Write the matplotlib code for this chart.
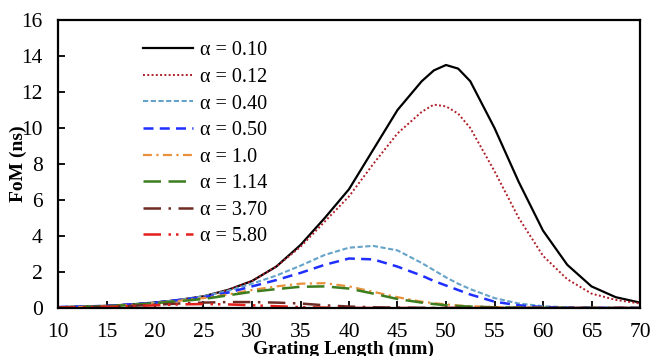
import matplotlib
matplotlib.use("Agg")
import matplotlib.pyplot as plt

plt.rcParams['font.family'] = ['Liberation Serif', 'DejaVu Serif']

# ---- data ----
x = [10, 12.5, 15, 17.5, 20, 22.5, 25, 27.5, 30, 32.5, 35, 37.5, 40,
     42.5, 45, 47.5, 48.75, 50, 51.25, 52.5, 55, 57.5, 60, 62.5, 65, 67.5, 70]

a010 = [0.05, 0.08, 0.12, 0.2, 0.3, 0.45, 0.65, 1.0, 1.5, 2.3, 3.5, 5.0, 6.6,
        8.8, 11.0, 12.6, 13.2, 13.5, 13.3, 12.6, 10.0, 7.0, 4.3, 2.4, 1.2, 0.6, 0.3]
a012 = [0.05, 0.08, 0.12, 0.2, 0.3, 0.45, 0.65, 1.0, 1.5, 2.3, 3.4, 4.8, 6.2,
        8.0, 9.7, 10.9, 11.3, 11.2, 10.8, 10.0, 7.6, 5.0, 2.9, 1.6, 0.8, 0.45, 0.25]
a040 = [0.05, 0.08, 0.12, 0.2, 0.3, 0.45, 0.65, 0.95, 1.35, 1.8, 2.35, 2.95, 3.35,
        3.45, 3.2, 2.5, 2.1, 1.7, 1.35, 1.05, 0.55, 0.25, 0.1, 0.04, 0.02, 0.01, 0.01]
a050 = [0.05, 0.08, 0.12, 0.2, 0.3, 0.45, 0.6, 0.85, 1.2, 1.55, 1.95, 2.4, 2.75,
        2.7, 2.3, 1.8, 1.5, 1.25, 1.0, 0.75, 0.35, 0.15, 0.05, 0.02, 0.01, 0.01, 0.01]
a100 = [0.03, 0.06, 0.1, 0.17, 0.27, 0.4, 0.55, 0.75, 1.0, 1.2, 1.35, 1.38, 1.2,
        0.9, 0.6, 0.35, 0.27, 0.2, 0.14, 0.1, 0.05, 0.02, 0.01, 0, 0, 0, 0]
a114 = [0.03, 0.06, 0.1, 0.17, 0.27, 0.38, 0.5, 0.7, 0.9, 1.05, 1.18, 1.2, 1.08,
        0.8, 0.5, 0.3, 0.22, 0.15, 0.11, 0.08, 0.04, 0.02, 0.01, 0, 0, 0, 0]
a370 = [0.02, 0.04, 0.07, 0.12, 0.18, 0.25, 0.3, 0.33, 0.33, 0.3, 0.25, 0.15, 0.08,
        0.04, 0.02, 0.01, 0, 0, 0, 0, 0, 0, 0, 0, 0, 0, 0]
a580 = [0.02, 0.04, 0.06, 0.1, 0.15, 0.2, 0.22, 0.2, 0.15, 0.1, 0.05, 0.02, 0.01,
        0, 0, 0, 0, 0, 0, 0, 0, 0, 0, 0, 0, 0, 0]

labels = ['α = 0.10', 'α = 0.12', 'α = 0.40', 'α = 0.50',
          'α = 1.0', 'α = 1.14', 'α = 3.70', 'α = 5.80']

# ---- plot ----
fig = plt.figure(figsize=(6.51, 3.56), dpi=100)
ax = fig.add_subplot(111)
fig.subplots_adjust(left=58 / 651, right=640 / 651, top=1 - 20 / 356, bottom=1 - 308 / 356)

ax.plot(x, a010, color='black', lw=1.6, ls='-', label=labels[0])
ax.plot(x, a012, color='#b0202a', lw=1.4, ls=(0, (1, 1.2)), label=labels[1])
ax.plot(x, a040, color='#65a3c8', lw=1.5, ls=(0, (2.5, 1.2)), label=labels[2])
ax.plot(x, a050, color='#1f2fff', lw=1.8, ls=(0, (4, 2.5)), label=labels[3])
ax.plot(x, a100, color='#e8913a', lw=1.6, ls=(0, (4, 2, 1, 2)), label=labels[4])
ax.plot(x, a114, color='#3c7d1e', lw=1.8, ls=(0, (7, 3)), label=labels[5])
ax.plot(x, a370, color='#6e2b24', lw=1.8, ls=(0, (7, 3, 1, 3)), label=labels[6])
ax.plot(x, a580, color='#e3201c', lw=1.8, ls=(0, (7, 3, 1, 2, 1, 3)), label=labels[7])

ax.set_xlim(10, 70)
ax.set_ylim(0, 16)
ax.set_xticks(range(10, 71, 5))
ax.set_yticks(range(0, 17, 2))
ax.tick_params(direction='in', length=5, width=1.3, labelsize=15.5, pad=11,
               top=False, right=False)
for s in ax.spines.values():
    s.set_linewidth(1.6)

ax.set_xlabel('Grating Length (mm)', fontsize=14, fontweight='bold')
ax.set_ylabel('FoM (ns)', fontsize=14, fontweight='bold')
ax.xaxis.set_label_coords(0.49, -0.112)
ax.yaxis.set_label_coords(-0.053, 0.5)

ax.legend(loc='upper left', bbox_to_anchor=(0.146, 0.926), frameon=False,
          fontsize=14.5, handlelength=2.5, handletextpad=0.35, labelspacing=0.37,
          borderpad=0, borderaxespad=0)

fig.savefig('out.png', dpi=100)
